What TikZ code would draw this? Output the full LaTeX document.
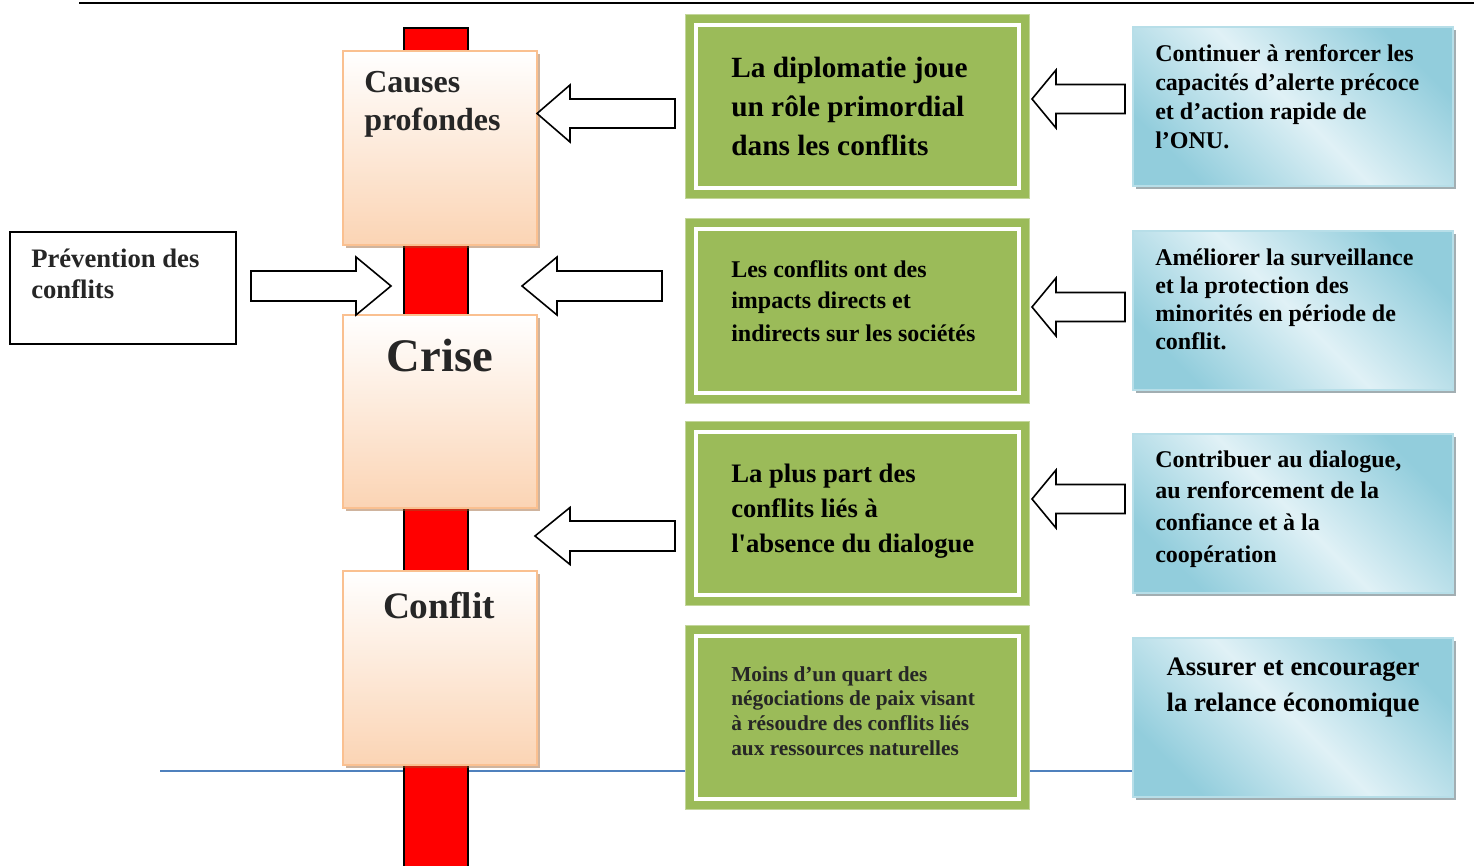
\documentclass[tikz,border=0pt]{standalone}
\usepackage{fontspec}
\setmainfont{Liberation Serif}
\usetikzlibrary{shadows}
\definecolor{peach}{RGB}{251,212,180}
\definecolor{peachline}{RGB}{250,192,144}
\definecolor{oshadow}{RGB}{150,90,40}
\definecolor{vert}{RGB}{155,187,89}
\definecolor{vertline}{RGB}{195,214,155}
\definecolor{bdark}{RGB}{146,205,220}
\definecolor{blight}{RGB}{224,241,246}
\definecolor{bline}{RGB}{183,222,232}
\definecolor{bshadow}{RGB}{100,120,128}
\definecolor{ligne}{RGB}{79,129,189}
\definecolor{txtgray}{RGB}{38,38,38}
\begin{document}
\begin{tikzpicture}[x=0.75pt,y=-0.75pt,
  obox/.style={draw=peachline, line width=1.5pt, top color=white, bottom color=peach,
    minimum width=145.5pt, inner sep=0,
    drop shadow={shadow xshift=2.5pt, shadow yshift=-2.5pt, fill=oshadow, opacity=0.45}},
  gbox/.style={fill=vert, draw=vertline, line width=0.75pt, minimum width=258pt,
    minimum height=138pt, inner sep=0},
  gin/.style={draw=white, line width=3pt},
  bbox/.style={draw=bline, line width=1.5pt, top color=bdark, bottom color=bdark,
    middle color=blight, shading angle=-45, minimum width=240pt, minimum height=119.25pt,
    inner sep=0,
    drop shadow={shadow xshift=2.5pt, shadow yshift=-2.5pt, fill=bshadow, opacity=0.6}},
  barrow/.style={draw=black, fill=white, line width=1.2pt, line join=miter},
  txt/.style={anchor=base west, inner sep=0},
  fs/.style 2 args={font=\bfseries\fontsize{#1}{#2}\selectfont},
]
\useasboundingbox (0,0) rectangle (1474,866);
\fill[white] (0,0) rectangle (1474,866);

% top rule
\coordinate (topL) at (79,3);
\coordinate (topR) at (1474,3);
\draw[line width=1.5pt] (topL) -- (topR);

% blue line (behind)
\coordinate (lineL) at (160,771);
\coordinate (lineR) at (1133,771);
\draw[ligne, line width=1.5pt] (lineL) -- (lineR);

% red column
\draw[fill=red, line width=1.5pt] (404,28) rectangle (468,880);

% orange boxes
\node[obox, minimum height=145.5pt] (o1) at (440,148) {};
\node[obox, minimum height=144.75pt] (o2) at (440,411.5) {};
\node[obox, minimum height=145.5pt] (o3) at (440,668) {};

% left box
\node[draw, fill=white, line width=1.5pt, minimum width=169.5pt, minimum height=84pt, inner sep=0] (prev) at (123,288) {};

% block arrows
\draw[barrow] (537,113.5) -- (570,85) -- (570,99) -- (675,99) -- (675,128) -- (570,128) -- (570,142) -- cycle;
\draw[barrow] (522,286) -- (557,257) -- (557,271) -- (662,271) -- (662,301) -- (557,301) -- (557,315) -- cycle;
\draw[barrow] (535,536) -- (570,507.5) -- (570,521) -- (675,521) -- (675,551) -- (570,551) -- (570,564.5) -- cycle;
\draw[barrow] (391,286) -- (356,257) -- (356,271) -- (251,271) -- (251,301) -- (356,301) -- (356,315) -- cycle;
\draw[barrow] (1032,99) -- (1056,70) -- (1056,84.5) -- (1125,84.5) -- (1125,113.5) -- (1056,113.5) -- (1056,128) -- cycle;
\draw[barrow] (1032,307) -- (1056,278) -- (1056,292.5) -- (1125,292.5) -- (1125,321.5) -- (1056,321.5) -- (1056,336) -- cycle;
\draw[barrow] (1032,499) -- (1056,470) -- (1056,484.5) -- (1125,484.5) -- (1125,513.5) -- (1056,513.5) -- (1056,528) -- cycle;

% green boxes
\foreach \n/\yy in {g1/107, g2/311, g3/513, g4/717} {
  \node[gbox] (\n) at (857,\yy) {};
  \draw[gin] ([shift={(11,11)}]\n.north west) rectangle ([shift={(-11,-11)}]\n.south east);
}

% blue boxes
\node[bbox] (b1) at (1293,106.5) {};
\node[bbox] (b2) at (1293,310.5) {};
\node[bbox] (b3) at (1293,513) {};
\node[bbox] (b4) at (1293,717.5) {};

% texts
\node[txt, fs={24}{28.5}, text=txtgray] (tcauses) at (364,93) {\parbox[t]{200pt}{\raggedright Causes\\profondes}};
\node[anchor=base, inner sep=0, fs={35}{40}, text=txtgray] (tcrise) at (440,371) {Crise};
\node[anchor=base, inner sep=0, fs={28}{32}, text=txtgray] (tconflit) at (439,618) {Conflit};
\node[txt, fs={20}{23.25}, text=txtgray] (tprev) at (31,268) {\parbox[t]{200pt}{\raggedright Prévention des\\conflits}};

\node[txt, fs={22}{29.25}] (tg1) at (731,78) {\parbox[t]{280pt}{\raggedright La diplomatie joue\\un rôle primordial\\dans les conflits}};
\node[txt, fs={18}{24}] (tg2) at (731,277) {\parbox[t]{280pt}{\raggedright Les conflits ont des\\impacts directs et\\indirects sur les sociétés}};
\node[txt, fs={20}{26.25}] (tg3) at (731,482) {\parbox[t]{280pt}{\raggedright La plus part des\\conflits liés à\\l\textquotesingle absence du dialogue}};
\node[txt, fs={16}{18.5}, text=txtgray] (tg4) at (731,681) {\parbox[t]{280pt}{\raggedright Moins d’un quart des\\négociations de paix visant\\à résoudre des conflits liés\\aux ressources naturelles}};

\node[txt, fs={18}{21.6}] (tb1) at (1155,62) {\parbox[t]{280pt}{\raggedright Continuer à renforcer les\\capacités d’alerte précoce\\et d’action rapide de\\l’ONU.}};
\node[txt, fs={18}{21}] (tb2) at (1155,266) {\parbox[t]{280pt}{\raggedright Améliorer la surveillance\\et la protection des\\minorités en période de\\conflit.}};
\node[txt, fs={18}{23.8}] (tb3) at (1155,467) {\parbox[t]{280pt}{\raggedright Contribuer au dialogue,\\au renforcement de la\\confiance et à la\\coopération}};
\node[anchor=base, inner sep=0, fs={20}{27}] (tb4) at (1293,675) {\parbox[t]{240pt}{\centering Assurer et encourager\\la relance économique}};
\end{tikzpicture}
\end{document}
